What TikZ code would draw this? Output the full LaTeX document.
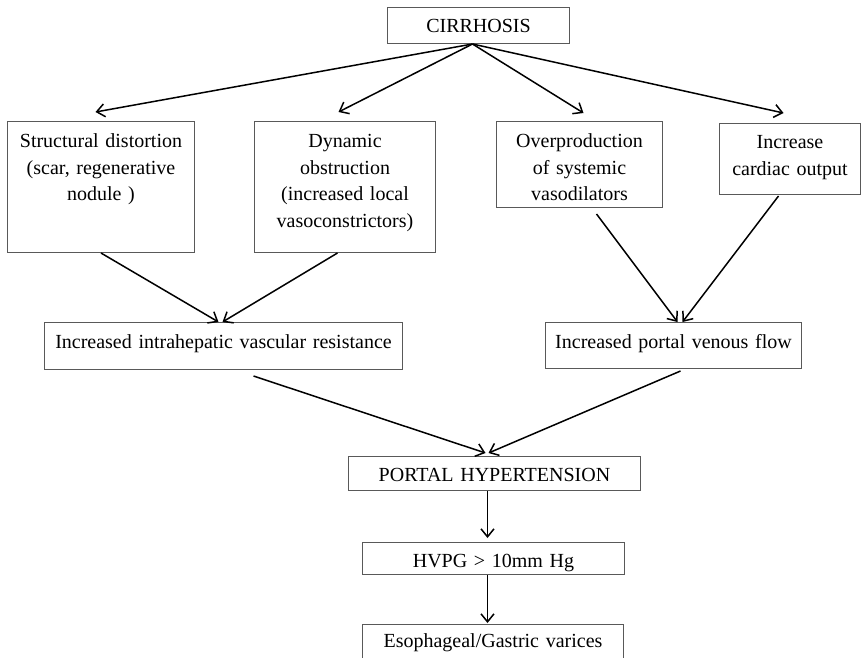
\documentclass[tikz,border=0pt]{standalone}
\usepackage{fontspec}
\setmainfont{Liberation Serif}
\usetikzlibrary{arrows.meta}
\tikzset{
  box/.style={draw=black!65, line width=1pt, inner sep=0pt, anchor=north west,
    align=center, font=\fontsize{20pt}{26.7pt}\selectfont},
  flow/.style={->, line width=1.5pt}
}
\begin{document}
\begin{tikzpicture}[x=1pt,y=-1pt,>={Straight Barb[length=8pt,width=13pt]}]
  \useasboundingbox (0,0) rectangle (861,657);
  \clip (0,0) rectangle (861,657);
  % boxes
  \node[box, text width=182pt, text height=25pt, text depth=11pt] (cir) at (387,7) {CIRRHOSIS};
  \node[box, text width=187pt, text height=26pt, text depth=105pt] (str) at (7,121)
    {Structural distortion\\(scar, regenerative\\nodule )};
  \node[box, text width=181pt, text height=26pt, text depth=105pt] (dyn) at (254,121)
    {Dynamic\\obstruction\\(increased local\\vasoconstrictors)};
  \node[box, text width=166pt, text height=26pt, text depth=60pt] (ovp) at (496,121)
    {Overproduction\\of systemic\\vasodilators};
  \node[box, text width=141pt, text height=25pt, text depth=46pt] (inc) at (719,123)
    {Increase\\cardiac output};
  \node[box, text width=358pt, text height=26pt, text depth=21pt] (ivr) at (44,322)
    {Increased intrahepatic vascular resistance};
  \node[box, text width=256pt, text height=26pt, text depth=20pt] (pvf) at (545,322)
    {Increased portal venous flow};
  \node[box, text width=292pt, text height=25pt, text depth=9pt] (ph) at (348,456)
    {PORTAL HYPERTENSION};
  \node[box, text width=262pt, text height=25pt, text depth=7pt] (hvpg) at (362,542)
    {HVPG > 10mm Hg};
  \node[box, text width=261pt, text height=23pt, text depth=23pt] (eso) at (362,624)
    {Esophageal/Gastric varices};
  % arrows
  \coordinate (top) at ([xshift=-6pt]cir.south);
  \foreach \n/\dx/\dy in {str/-5.5/9, dyn/-6.5/9, ovp/4/8, inc/-6.5/10}
    \draw[flow] (top) -- ([xshift=\dx pt,yshift=\dy pt]\n.north);
  \draw[flow] (str.south) -- ([xshift=-5pt]ivr.north);
  \draw[flow] ([xshift=-7.5pt]dyn.south) -- ([xshift=-1pt]ivr.north);
  \draw[flow] ([xshift=17pt,yshift=-6pt]ovp.south) -- ([xshift=4pt]pvf.north);
  \draw[flow] ([xshift=-11.5pt,yshift=-1pt]inc.south) -- ([xshift=9pt]pvf.north);
  \draw[flow] ([xshift=30pt,yshift=-6pt]ivr.south) -- ([xshift=-9pt,yshift=3pt]ph.north);
  \draw[flow] ([xshift=7pt,yshift=-2pt]pvf.south) -- ([xshift=-6pt,yshift=3pt]ph.north);
  \draw[flow] ([xshift=-7pt]ph.south) -- ([xshift=-6pt,yshift=4pt]hvpg.north);
  \draw[flow] ([xshift=-6pt]hvpg.south) -- ([xshift=-5.5pt,yshift=1pt]eso.north);
\end{tikzpicture}
\end{document}
